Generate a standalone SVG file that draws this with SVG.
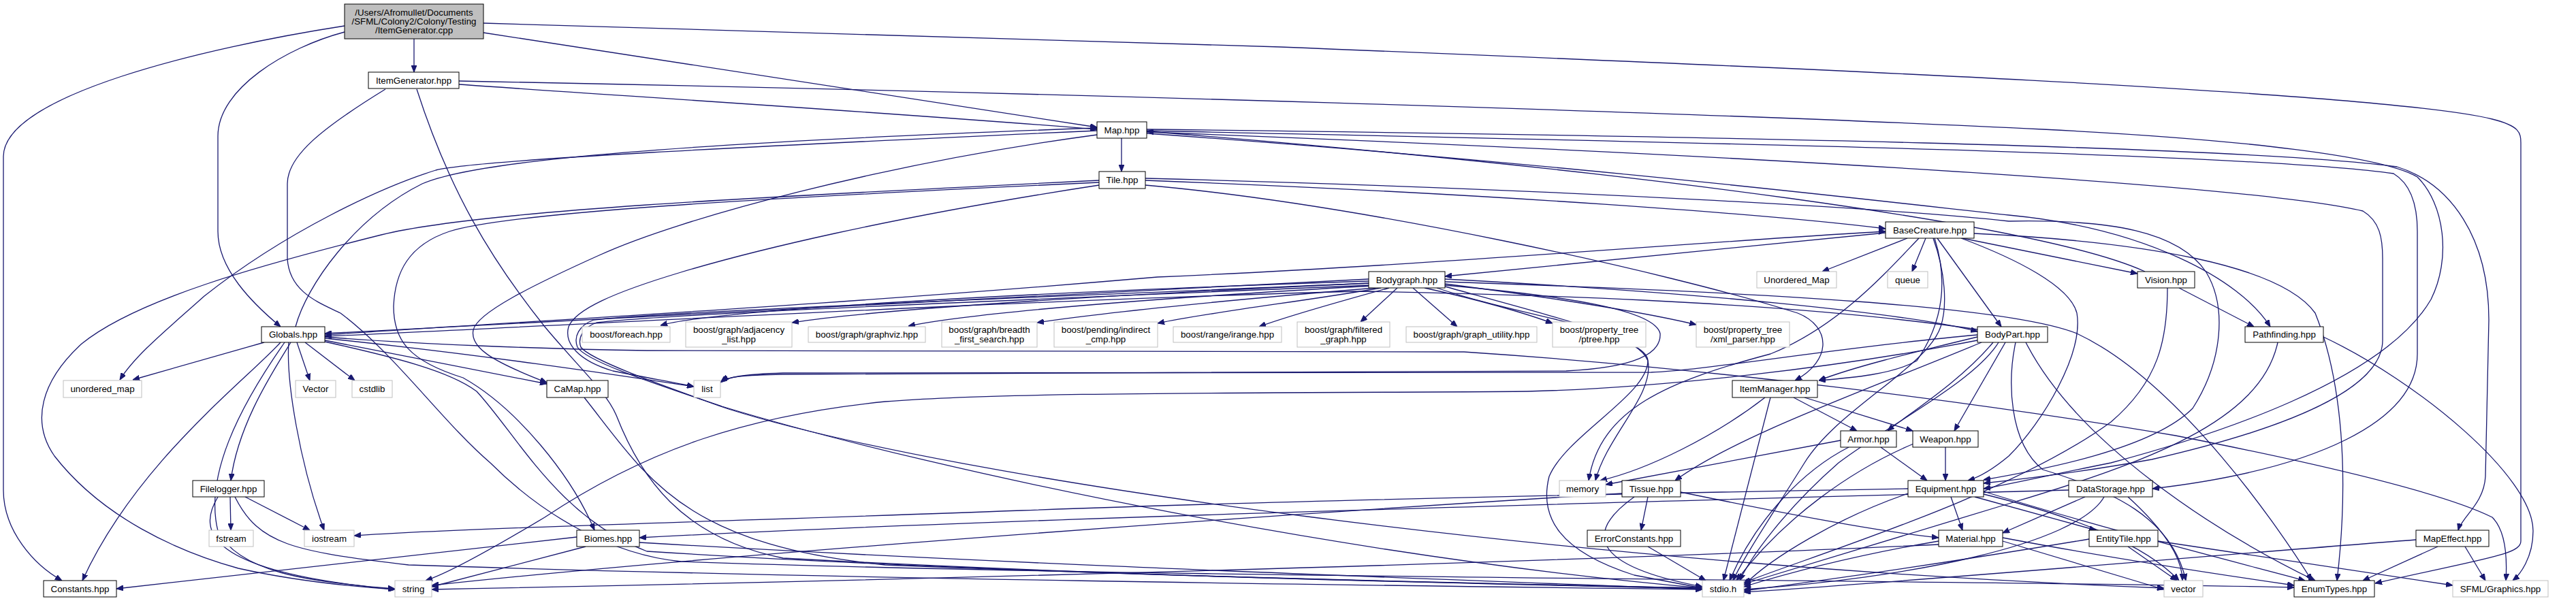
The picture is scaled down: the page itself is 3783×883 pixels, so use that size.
<svg xmlns="http://www.w3.org/2000/svg" width="3783" height="883" viewBox="0 0 3783 883">
<defs>
<style>
.n rect{fill:#fff;stroke:#000;stroke-width:1}
.g rect{fill:#fff;stroke:#bfbfbf;stroke-width:1}
.r rect{fill:#bfbfbf;stroke:#000;stroke-width:1}
text{font-family:"Liberation Sans",Arial,Helvetica,sans-serif;font-size:13.33px;text-anchor:middle;fill:#000}
#edges path{fill:none;stroke:#191970;stroke-width:1.3;marker-end:url(#a)}
</style>
<marker id="a" viewBox="0 0 10 8" refX="10" refY="4" markerWidth="10" markerHeight="8" markerUnits="userSpaceOnUse" orient="auto"><path d="M0,0 L10,4 L0,8 z" fill="#191970" stroke="#191970"/></marker>
</defs>
<rect width="3783" height="883" fill="#fff"/>
<g id="edges">
<path d="M608,57 L608,106"/>
<path d="M710,48 L1611,187"/>
<path d="M506,47 C420,70 320,130 320,200 L320,340 C320,395 370,445 412,480"/>
<path d="M506,38 C300,70 5,140 5,230 L5,720 C5,780 50,830 91,853"/>
<path d="M710,34 L1880,69 C2600,98 3500,135 3660,175 C3700,185 3702,195 3702,210 L3702,795 C3702,815 3650,820 3488,857"/>
<path d="M674,124 C900,140 1300,165 1611,190"/>
<path d="M566,131 C470,190 422,230 422,270 L422,380 C425,430 470,445 500,460 C580,520 650,620 720,680 C800,760 900,815 1000,825 C1700,850 2900,852 3369,863"/>
<path d="M612,131 C660,280 720,380 800,480 C850,540 890,575 905,610 C940,700 1000,790 1150,820 C1700,850 2300,860 2500,865"/>
<path d="M674,119 C1500,135 2500,165 3000,190 C3300,205 3500,230 3550,260 C3590,300 3600,380 3570,440 C3500,560 3250,640 3100,680 C3000,700 2950,712 2913,718"/>
<path d="M1647,203 L1647,252"/>
<path d="M1611,192 C1100,215 700,235 640,250 C560,275 420,340 300,435 C250,480 200,520 176,558"/>
<path d="M1611,198 C1300,240 1000,320 880,375 C780,420 700,460 695,485 C690,510 720,530 803,562"/>
<path d="M1684,190 C2500,200 3300,215 3520,245 C3600,270 3655,350 3655,470 L3650,700 C3648,740 3615,760 3610,779"/>
<path d="M1684,192 C2500,210 3300,225 3515,255 C3540,270 3550,300 3550,340 L3550,520 C3550,620 3400,690 3161,718"/>
<path d="M1684,194 C2500,225 3300,270 3470,310 C3495,325 3499,350 3499,380 L3499,500 C3499,560 3400,620 3160,675 C3050,695 2960,705 2913,710"/>
<path d="M1684,196 C2300,240 2800,300 2950,316 C3150,335 3290,410 3334,480"/>
<path d="M3150,399 C3000,330 2400,250 1684,193"/>
<path d="M1682,265 C2200,285 2600,315 2769,336"/>
<path d="M1682,262 C2300,278 2800,308 2950,325 C3100,322 3200,340 3240,400 C3270,450 3265,530 3220,600 C3160,660 3000,690 2913,705"/>
<path d="M1682,272 C2000,300 2450,400 2640,460 C2690,480 2690,530 2636,559"/>
<path d="M1614,265 C1100,290 700,310 560,345 C380,390 200,440 120,505 C60,560 45,620 80,670 C150,760 260,810 350,835 C440,855 520,862 580,866"/>
<path d="M1614,268 C1100,292 750,312 660,340 C600,360 580,400 578,450 C578,500 600,530 680,555 C760,600 840,700 873,779"/>
<path d="M1614,272 C1300,320 1100,370 1000,400 C900,430 845,455 835,480 C828,505 850,530 900,545 C950,555 990,562 1019,568"/>
<path d="M2801,350 L2676,399"/>
<path d="M2828,350 L2808,399"/>
<path d="M2769,342 L2122,406"/>
<path d="M2882,350 L3139,402"/>
<path d="M2845,350 L2939,480"/>
<path d="M2899,343 C3150,355 3350,390 3400,460 C3440,560 3450,700 3432,853"/>
<path d="M2880,350 C2960,380 3040,420 3050,460 C3060,520 3000,620 2950,670 C2920,695 2900,703 2890,706"/>
<path d="M2839,350 C2857,400 2860,450 2850,480 C2830,540 2700,600 2650,680 C2600,760 2560,820 2545,853"/>
<path d="M2818,350 C2770,400 2700,480 2600,520 C2450,560 2350,600 2333,706"/>
<path d="M2841,350 C2860,410 2856,470 2815,530 C2780,550 2720,555 2671,559"/>
<path d="M2010,410 C1500,435 700,480 477,490"/>
<path d="M2010,413 C1500,430 1050,455 970,478"/>
<path d="M2012,416 C1700,430 1300,452 1163,474"/>
<path d="M2015,420 C1800,432 1450,455 1334,479"/>
<path d="M2020,423 C1850,437 1650,455 1523,474"/>
<path d="M2028,423 C1920,442 1780,458 1700,475"/>
<path d="M2040,423 C1960,445 1890,465 1849,480"/>
<path d="M2052,423 L1998,473"/>
<path d="M2075,423 L2140,480"/>
<path d="M2092,423 C2170,440 2240,460 2280,475"/>
<path d="M2122,417 C2300,440 2420,460 2491,477"/>
<path d="M2122,410 C2500,430 2800,460 2904,487"/>
<path d="M2122,419 C2300,435 2430,455 2438,490 C2440,520 2400,540 2300,545 L1150,550 C1090,551 1068,554 1060,560"/>
<path d="M2010,416 C1600,434 1000,456 872,470 C850,478 842,495 848,510 C860,530 950,560 1060,597 C1400,700 2000,820 2500,864"/>
<path d="M2010,419 C1600,437 1005,459 876,474 C856,481 848,497 853,510 C866,528 960,562 1070,601 C1400,705 2300,830 3178,864"/>
<path d="M2110,423 C2250,470 2400,480 2420,530 C2430,580 2360,640 2343,706"/>
<path d="M2122,421 C2300,470 2420,500 2420,530 C2420,580 2300,640 2275,700 C2260,760 2290,810 2400,845 L2500,864"/>
<path d="M2122,414 C2600,430 2950,450 3050,490 C3200,560 3350,780 3395,853"/>
<path d="M2904,495 C2800,520 2720,540 2671,559"/>
<path d="M2927,503 C2880,560 2800,610 2772,633"/>
<path d="M2945,503 L2870,633"/>
<path d="M2910,503 C2750,570 2550,640 2460,706"/>
<path d="M2935,503 C2900,560 2780,620 2700,680 C2620,750 2570,820 2555,853"/>
<path d="M2904,500 C2700,540 2440,570 2243,575 C1900,578 1485,575 1300,590 C1100,610 950,660 800,760 C700,820 650,845 625,853"/>
<path d="M2904,492 C2700,510 2500,545 2425,547 L1150,548 C1090,550 1068,554 1058,562"/>
<path d="M2960,503 C2948,560 2950,650 3000,690 C3100,720 3190,760 3210,853"/>
<path d="M2975,503 C3050,650 3250,780 3400,853"/>
<path d="M2904,484 C2600,440 2200,432 2000,428 C1500,440 700,485 477,494"/>
<path d="M2634,584 L2727,633"/>
<path d="M2650,584 L2809,633"/>
<path d="M2592,584 C2520,640 2420,690 2350,706"/>
<path d="M2600,584 L2531,853"/>
<path d="M2703,647 L2358,712"/>
<path d="M2762,657 L2830,706"/>
<path d="M2715,657 C2650,690 2580,760 2540,853"/>
<path d="M2857,657 L2857,706"/>
<path d="M2810,652 C2720,690 2620,760 2550,853"/>
<path d="M2865,730 L2882,779"/>
<path d="M2900,730 L3078,779"/>
<path d="M2913,722 C3100,780 3300,830 3385,853"/>
<path d="M2802,725 C2700,760 2600,820 2561,860"/>
<path d="M2802,718 C2400,725 1900,735 1500,750 C1100,765 700,775 520,787"/>
<path d="M2913,726 C3050,760 3150,800 3200,853"/>
<path d="M3062,730 L2941,783"/>
<path d="M3125,730 C3180,780 3205,820 3205,853"/>
<path d="M3090,730 C3050,800 2800,850 2561,866"/>
<path d="M3038,720 C2500,735 1500,760 939,790"/>
<path d="M2941,795 L3178,866"/>
<path d="M2941,790 C3100,820 3300,850 3369,860"/>
<path d="M2847,795 C2700,820 2600,850 2561,862"/>
<path d="M2847,800 C2200,830 1200,855 634,866"/>
<path d="M3125,803 L3197,853"/>
<path d="M3169,795 L3602,860"/>
<path d="M3068,792 C2900,820 2700,850 2561,868"/>
<path d="M3580,803 L3470,853"/>
<path d="M3620,803 L3650,853"/>
<path d="M3548,793 C3200,820 2800,855 2561,870"/>
<path d="M3412,495 C3550,560 3720,700 3720,780 C3720,820 3700,845 3690,853"/>
<path d="M3345,503 C3320,620 3150,680 2950,740 C2750,800 2620,840 2561,858"/>
<path d="M3200,423 L3310,480"/>
<path d="M3183,423 C3183,500 3170,560 3100,620 C2950,730 2650,820 2561,856"/>
<path d="M2420,730 L2410,779"/>
<path d="M2400,730 C2330,780 2330,830 2500,862"/>
<path d="M2468,723 C2600,750 2750,780 2847,790"/>
<path d="M2382,725 C1800,760 1000,820 634,860"/>
<path d="M2420,803 L2505,853"/>
<path d="M388,503 L195,558"/>
<path d="M436,503 L455,559"/>
<path d="M448,503 L521,559"/>
<path d="M427,503 C405,540 350,620 339,706"/>
<path d="M424,503 C420,560 440,680 476,779"/>
<path d="M412,503 C360,560 200,680 121,853"/>
<path d="M418,503 C350,600 300,700 320,780 C350,840 450,855 580,865"/>
<path d="M477,502 C580,525 660,545 700,575 C760,640 820,760 950,810 C1500,845 2200,858 2500,864"/>
<path d="M477,500 L803,564"/>
<path d="M477,497 C700,520 900,550 1019,568"/>
<path d="M434,480 C450,420 520,320 620,270 C700,235 1000,210 1611,188"/>
<path d="M477,492 C800,470 1200,450 1700,407 C2100,390 2500,355 2769,340"/>
<path d="M477,495 C600,505 800,513 950,515 L2150,517 C2500,540 2900,590 3195,640 C3450,690 3600,730 3660,760 C3680,780 3682,820 3680,853"/>
<path d="M338,730 L339,779"/>
<path d="M360,730 L455,779"/>
<path d="M320,730 C290,780 300,840 580,866"/>
<path d="M345,730 C380,800 430,810 600,830 C1200,850 2000,860 2500,866"/>
<path d="M858,584 C950,700 1000,800 1300,830 C1800,850 2300,860 2500,864"/>
<path d="M847,789 L171,865"/>
<path d="M860,803 L634,862"/>
<path d="M939,797 C1500,830 2100,850 2500,866"/>
</g>
<g id="root" class="r"><rect x="506" y="6" width="204" height="51"/><text x="608" y="23">/Users/Afromullet/Documents</text><text x="608" y="36">/SFML/Colony2/Colony/Testing</text><text x="608" y="49">/ItemGenerator.cpp</text></g>
<g id="itemgenerator_hpp" class="n"><rect x="541" y="106" width="133" height="24"/><text x="607.5" y="122.5">ItemGenerator.hpp</text></g>
<g id="map_hpp" class="n"><rect x="1611" y="179" width="73" height="24"/><text x="1647.5" y="195.5">Map.hpp</text></g>
<g id="tile_hpp" class="n"><rect x="1614" y="252" width="68" height="25"/><text x="1648" y="269">Tile.hpp</text></g>
<g id="basecreature_hpp" class="n"><rect x="2769" y="326" width="130" height="24"/><text x="2834" y="342.5">BaseCreature.hpp</text></g>
<g id="Unordered_Map" class="g"><rect x="2580" y="399" width="117" height="24"/><text x="2638.5" y="415.5">Unordered_Map</text></g>
<g id="queue" class="g"><rect x="2772" y="399" width="59" height="24"/><text x="2801.5" y="415.5">queue</text></g>
<g id="vision_hpp" class="n"><rect x="3139" y="399" width="84" height="24"/><text x="3181" y="415.5">Vision.hpp</text></g>
<g id="bodygraph_hpp" class="n"><rect x="2010" y="399" width="112" height="24"/><text x="2066" y="415.5">Bodygraph.hpp</text></g>
<g id="pathfinding_hpp" class="n"><rect x="3297" y="480" width="115" height="23"/><text x="3354.5" y="496">Pathfinding.hpp</text></g>
<g id="globals_hpp" class="n"><rect x="384" y="480" width="93" height="23"/><text x="430.5" y="496">Globals.hpp</text></g>
<g id="boost_foreach" class="g"><rect x="855" y="480" width="129" height="23"/><text x="919.5" y="496">boost/foreach.hpp</text></g>
<g id="boost_adjacency_list" class="g"><rect x="1007" y="473" width="156" height="37"/><text x="1085" y="489">boost/graph/adjacency</text><text x="1085" y="503">_list.hpp</text></g>
<g id="boost_graphviz" class="g"><rect x="1187" y="480" width="172" height="23"/><text x="1273" y="496">boost/graph/graphviz.hpp</text></g>
<g id="boost_breadth_first_search" class="g"><rect x="1383" y="473" width="140" height="37"/><text x="1453" y="489">boost/graph/breadth</text><text x="1453" y="503">_first_search.hpp</text></g>
<g id="boost_indirect_cmp" class="g"><rect x="1548" y="473" width="152" height="37"/><text x="1624" y="489">boost/pending/indirect</text><text x="1624" y="503">_cmp.hpp</text></g>
<g id="boost_irange" class="g"><rect x="1723" y="480" width="159" height="23"/><text x="1802.5" y="496">boost/range/irange.hpp</text></g>
<g id="boost_filtered_graph" class="g"><rect x="1905" y="473" width="136" height="37"/><text x="1973" y="489">boost/graph/filtered</text><text x="1973" y="503">_graph.hpp</text></g>
<g id="boost_graph_utility" class="g"><rect x="2065" y="480" width="192" height="23"/><text x="2161" y="496">boost/graph/graph_utility.hpp</text></g>
<g id="boost_ptree" class="g"><rect x="2280" y="473" width="137" height="37"/><text x="2348.5" y="489">boost/property_tree</text><text x="2348.5" y="503">/ptree.hpp</text></g>
<g id="boost_xml_parser" class="g"><rect x="2491" y="473" width="137" height="37"/><text x="2559.5" y="489">boost/property_tree</text><text x="2559.5" y="503">/xml_parser.hpp</text></g>
<g id="bodypart_hpp" class="n"><rect x="2904" y="480" width="103" height="23"/><text x="2955.5" y="496">BodyPart.hpp</text></g>
<g id="unordered_map" class="g"><rect x="93" y="559" width="115" height="25"/><text x="150.5" y="576">unordered_map</text></g>
<g id="Vector" class="g"><rect x="434" y="559" width="59" height="25"/><text x="463.5" y="576">Vector</text></g>
<g id="cstdlib" class="g"><rect x="517" y="559" width="59" height="25"/><text x="546.5" y="576">cstdlib</text></g>
<g id="camap_hpp" class="n"><rect x="803" y="559" width="90" height="25"/><text x="848" y="576">CaMap.hpp</text></g>
<g id="list" class="g"><rect x="1019" y="559" width="39" height="25"/><text x="1038.5" y="576">list</text></g>
<g id="itemmanager_hpp" class="n"><rect x="2544" y="559" width="125" height="25"/><text x="2606.5" y="576">ItemManager.hpp</text></g>
<g id="armor_hpp" class="n"><rect x="2703" y="633" width="82" height="24"/><text x="2744" y="649.5">Armor.hpp</text></g>
<g id="weapon_hpp" class="n"><rect x="2809" y="633" width="96" height="24"/><text x="2857" y="649.5">Weapon.hpp</text></g>
<g id="filelogger_hpp" class="n"><rect x="283" y="706" width="105" height="24"/><text x="335.5" y="722.5">Filelogger.hpp</text></g>
<g id="memory" class="g"><rect x="2290" y="706" width="68" height="24"/><text x="2324" y="722.5">memory</text></g>
<g id="tissue_hpp" class="n"><rect x="2382" y="706" width="86" height="24"/><text x="2425" y="722.5">Tissue.hpp</text></g>
<g id="equipment_hpp" class="n"><rect x="2802" y="706" width="111" height="24"/><text x="2857.5" y="722.5">Equipment.hpp</text></g>
<g id="datastorage_hpp" class="n"><rect x="3038" y="706" width="123" height="24"/><text x="3099.5" y="722.5">DataStorage.hpp</text></g>
<g id="fstream" class="g"><rect x="307" y="779" width="65" height="24"/><text x="339.5" y="795.5">fstream</text></g>
<g id="iostream" class="g"><rect x="447" y="779" width="73" height="24"/><text x="483.5" y="795.5">iostream</text></g>
<g id="biomes_hpp" class="n"><rect x="847" y="779" width="92" height="24"/><text x="893" y="795.5">Biomes.hpp</text></g>
<g id="errorconstants_hpp" class="n"><rect x="2331" y="779" width="137" height="24"/><text x="2399.5" y="795.5">ErrorConstants.hpp</text></g>
<g id="material_hpp" class="n"><rect x="2847" y="779" width="94" height="24"/><text x="2894" y="795.5">Material.hpp</text></g>
<g id="entitytile_hpp" class="n"><rect x="3068" y="779" width="101" height="24"/><text x="3118.5" y="795.5">EntityTile.hpp</text></g>
<g id="mapeffect_hpp" class="n"><rect x="3548" y="779" width="107" height="24"/><text x="3601.5" y="795.5">MapEffect.hpp</text></g>
<g id="constants_hpp" class="n"><rect x="64" y="853" width="107" height="24"/><text x="117.5" y="869.5">Constants.hpp</text></g>
<g id="string" class="g"><rect x="580" y="853" width="54" height="24"/><text x="607" y="869.5">string</text></g>
<g id="stdio_h" class="g"><rect x="2500" y="853" width="61" height="24"/><text x="2530.5" y="869.5">stdio.h</text></g>
<g id="vector" class="g"><rect x="3178" y="853" width="57" height="24"/><text x="3206.5" y="869.5">vector</text></g>
<g id="enumtypes_hpp" class="n"><rect x="3369" y="853" width="118" height="24"/><text x="3428" y="869.5">EnumTypes.hpp</text></g>
<g id="sfml_graphics" class="g"><rect x="3602" y="853" width="140" height="24"/><text x="3672" y="869.5">SFML/Graphics.hpp</text></g>
</svg>
